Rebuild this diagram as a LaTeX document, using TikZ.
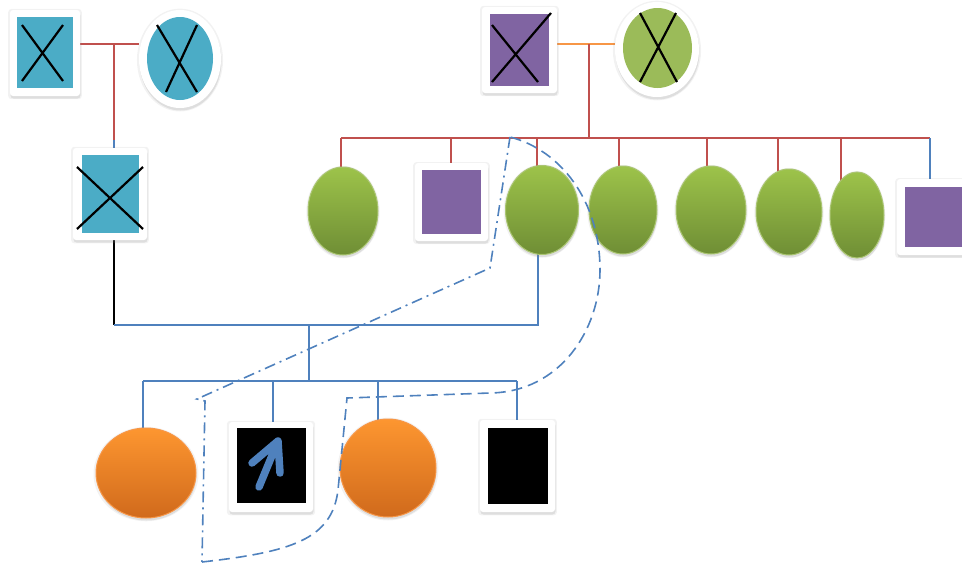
\documentclass[tikz,border=0pt]{standalone}
\usetikzlibrary{shapes.geometric,shadows,backgrounds}
\definecolor{teal}{HTML}{4BACC6}
\definecolor{purp}{HTML}{8064A2}
\definecolor{grn}{HTML}{9BBB59}
\definecolor{grntop}{HTML}{9DC34A}
\definecolor{grnbot}{HTML}{6F8E35}
\definecolor{orgtop}{HTML}{FD9630}
\definecolor{orgbot}{HTML}{D06A1C}
\definecolor{orgline}{HTML}{F79646}
\definecolor{redl}{HTML}{C0504D}
\definecolor{bluel}{HTML}{4F81BD}
\tikzset{
  shad/.style={drop shadow={opacity=0.10,shadow xshift=0pt,shadow yshift=-1pt,shadow scale=1.05},
               drop shadow={opacity=0.18,shadow xshift=0.5pt,shadow yshift=-2.5pt}},
  frame/.style={rectangle,fill=white,rounded corners=3pt,inner sep=0pt,outer sep=0pt,shad},
  inner/.style={rectangle,inner sep=0pt,outer sep=0pt,draw=none},
  oframe/.style={ellipse,fill=white,inner sep=0pt,outer sep=0pt,shad},
  oinner/.style={ellipse,inner sep=0pt,outer sep=0pt,draw=none},
  gell/.style={ellipse,inner sep=0pt,outer sep=0pt,top color=grntop,bottom color=grnbot,draw=grn!85!white,line width=1pt,shad},
  oell/.style={ellipse,inner sep=0pt,outer sep=0pt,top color=orgtop,bottom color=orgbot,draw=orgline,line width=1pt,shad},
  crossline/.style={black,line width=2.2pt},
  rl/.style={redl,line width=2pt},
  bl/.style={bluel,line width=1.8pt},
  kl/.style={black,line width=2pt},
  ol/.style={orgline,line width=2pt},
  dashloop/.style={bluel,line width=1.6pt,dash pattern=on 11pt off 6pt},
  dotloop/.style={bluel,line width=1.6pt,dash pattern=on 11pt off 5pt on 2pt off 5pt},
}
\begin{document}
\begin{tikzpicture}[x=1pt,y=-1pt]
\useasboundingbox (0,0) rectangle (962,563);
\clip (0,0) rectangle (962,563);
% top-left couple
\node[frame,minimum width=70pt,minimum height=86pt] (Af) at (45,53) {};
\node[inner,fill=teal,minimum width=56pt,minimum height=71pt] (A) at (45,52.5) {};
\draw[crossline] (22,25) -- (63,81) (63,25) -- (22,81);
\node[oframe,minimum width=82pt,minimum height=98pt] (Bf) at (180,59) {};
\node[oinner,fill=teal,minimum width=66pt,minimum height=83pt] (B) at (180,58.5) {};
\draw[crossline] (157,25) -- (197,92) (197,25) -- (166,92);
% their child
\node[frame,minimum width=74pt,minimum height=92pt] (Cf) at (110,194) {};
\node[inner,fill=teal,minimum width=57pt,minimum height=78pt] (C) at (110.5,194) {};
\draw[crossline] (77,167) -- (143,229) (143,167) -- (77,229);
% top-right couple
\node[frame,minimum width=75pt,minimum height=86pt] (Df) at (519.5,50) {};
\node[inner,fill=purp,minimum width=59pt,minimum height=72pt] (D) at (519.5,50) {};
\draw[crossline] (492,25) -- (538,82) (551,13) -- (492,82);
\node[oframe,minimum width=84pt,minimum height=95pt] (Ef) at (657,49.5) {};
\node[oinner,fill=grn,minimum width=69pt,minimum height=80pt] (E) at (657.5,48) {};
\draw[crossline] (640,13) -- (677,82) (676,13) -- (640,82);
% siblings
\node[gell,minimum width=70pt,minimum height=88pt] (g1) at (343,211) {};
\node[frame,minimum width=73pt,minimum height=78pt] (s2f) at (451.5,202) {};
\node[inner,fill=purp,minimum width=59pt,minimum height=64pt] (s2) at (451.5,202) {};
\node[gell,minimum width=73pt,minimum height=89pt] (g3) at (542,210) {};
\node[gell,minimum width=68pt,minimum height=88pt] (g4) at (623,210) {};
\node[gell,minimum width=70pt,minimum height=88pt] (g5) at (711,210) {};
\node[gell,minimum width=66pt,minimum height=86pt] (g6) at (789,212) {};
\node[gell,minimum width=54pt,minimum height=86pt] (g7) at (857,215) {};
\node[frame,minimum width=73pt,minimum height=76pt] (s8f) at (933.5,217) {};
\node[inner,fill=purp,minimum width=59pt,minimum height=60pt] (s8) at (934.5,217) {};
% children
\node[oell,minimum width=100pt,minimum height=90pt] (o1) at (146,473) {};
\node[frame,minimum width=84pt,minimum height=90pt] (k1f) at (271,467) {};
\node[inner,fill=black,minimum width=69pt,minimum height=75pt] (k1) at (271.5,465.5) {};
\draw[bluel,line width=7.5pt,line cap=round,line join=round] (259,487) -- (278,441) (252,463) -- (278,441) -- (280,473);
\node[oell,minimum width=96pt,minimum height=98pt] (o2) at (388,468) {};
\node[frame,minimum width=75pt,minimum height=92pt] (k2f) at (517.5,466) {};
\node[inner,fill=black,minimum width=60pt,minimum height=76pt] (k2) at (518,466) {};
% connectors
\coordinate (m1) at (114,44);
\coordinate (m1b) at (114,140);
\coordinate (m2) at (589,44);
\coordinate (m2b) at (589,138);
\coordinate (sibL) at (341,138);
\coordinate (sibR) at (930,138);
\coordinate (cj) at (114,325);
\coordinate (cm) at (309,325);
\coordinate (cb) at (309,381);
\coordinate (chL) at (143,381);
\coordinate (chR) at (517,381);
\begin{pgfonlayer}{background}
\draw[rl] (Af.east |- m1) -- (Bf.west |- m1);
\draw[rl] (m1) -- (m1b);
\draw[bl] (m1b) -- (Cf.north -| m1b);
\draw[kl] (Cf.south -| cj) -- (cj);
\draw[bl] (cj) -- (538,325) -- (g3.center -| 538,325);
\draw[ol] (Df.east |- m2) -- (Ef.west |- m2);
\draw[rl] (m2) -- (m2b);
\draw[rl] (sibL) -- (sibR);
\draw[rl] (sibL) -- (sibL |- g1.center);
\draw[rl] (451,138) -- (s2f.center -| 451,138);
\draw[rl] (537,138) -- (g3.center -| 537,138);
\draw[rl] (619,138) -- (g4.center -| 619,138);
\draw[rl] (707,138) -- (g5.center -| 707,138);
\draw[rl] (778,138) -- (g6.center -| 778,138);
\draw[rl] (841,138) -- (g7.center -| 841,138);
\draw[bl] (sibR) -- (s8f.north -| sibR);
\draw[bl] (cm) -- (cb);
\draw[bl] (chL) -- (chR);
\draw[bl] (chL) -- (chL |- o1.center);
\draw[bl] (273,381) -- (k1f.north -| 273,381);
\draw[bl] (378,381) -- (o2.center -| 378,381);
\draw[bl] (chR) -- (k2f.north -| chR);
\end{pgfonlayer}
% loop around group
\draw[dotloop] (510,137) -- (490,268) -- (197,399) -- (205,401) -- (202,562);
\draw[dashloop] (202,562) .. controls (290,552) and (332,540) .. (338,490) -- (347,398) -- (490,393) .. controls (560,392) and (600,330) .. (600,270) .. controls (600,200) and (560,150) .. (510,137);
\end{tikzpicture}
\end{document}
